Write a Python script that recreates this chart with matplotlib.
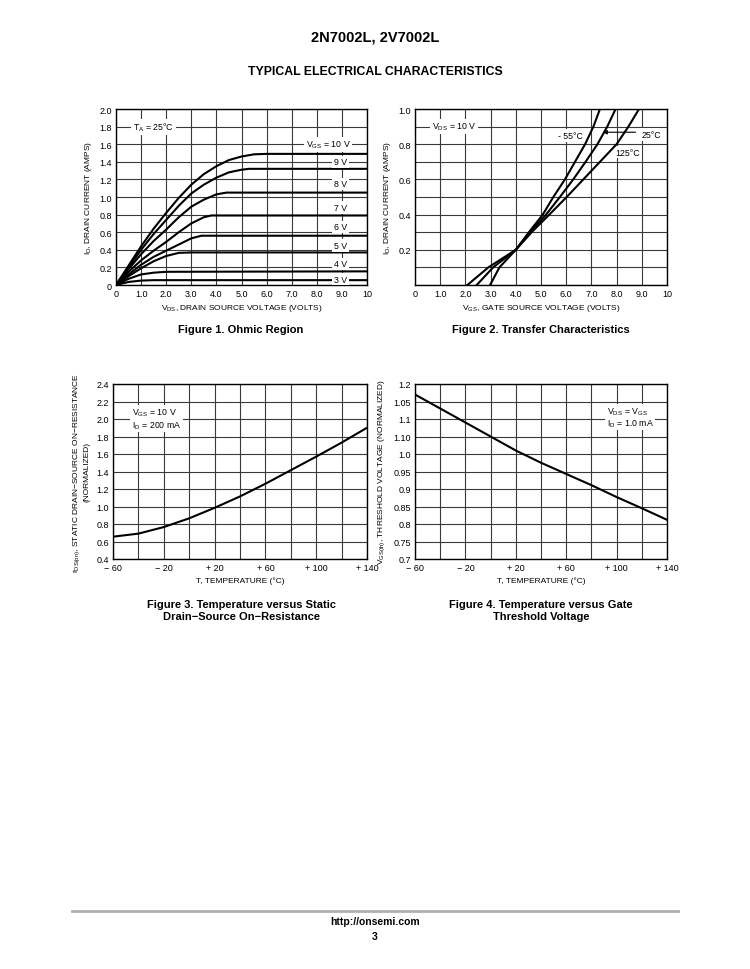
import numpy as np
import matplotlib
matplotlib.use('Agg')
import matplotlib.pyplot as plt

plt.rcParams['font.family'] = ['Liberation Sans', 'DejaVu Sans']

# Figure 1, ohmic region: drain current vs VDS for each VGS
vgs_labels = ['V$_\\mathregular{GS}$ = 10 V', '9 V', '8 V', '7 V', '6 V', '5 V', '4 V', '3 V']
vds_10 = [0, 0.5, 1, 1.5, 2, 2.5, 3, 3.5, 4, 4.5, 5, 5.5, 6, 10]
id_10 = [0, 0.22, 0.44, 0.64, 0.82, 0.99, 1.14, 1.26, 1.35, 1.42, 1.46, 1.485, 1.49, 1.49]
vds_9 = [0, 0.5, 1, 1.5, 2, 2.5, 3, 3.5, 4, 4.5, 5, 5.3, 10]
id_9 = [0, 0.2, 0.4, 0.58, 0.74, 0.9, 1.04, 1.14, 1.22, 1.28, 1.31, 1.32, 1.32]
vds_8 = [0, 0.5, 1, 1.5, 2, 2.5, 3, 3.5, 4, 4.4, 10]
id_8 = [0, 0.18, 0.35, 0.5, 0.63, 0.77, 0.89, 0.97, 1.03, 1.05, 1.05]
vds_7 = [0, 0.5, 1, 1.5, 2, 2.5, 3, 3.5, 3.8, 10]
id_7 = [0, 0.15, 0.28, 0.39, 0.49, 0.6, 0.7, 0.77, 0.79, 0.79]
vds_6 = [0, 0.5, 1, 1.5, 2, 2.5, 3, 3.4, 10]
id_6 = [0, 0.12, 0.23, 0.32, 0.39, 0.46, 0.53, 0.56, 0.56]
vds_5 = [0, 0.5, 1, 1.5, 2, 2.5, 3, 10]
id_5 = [0, 0.1, 0.19, 0.27, 0.33, 0.365, 0.37, 0.37]
vds_4 = [0, 0.5, 1, 1.5, 2, 10]
id_4 = [0, 0.07, 0.12, 0.14, 0.15, 0.155]
vds_3 = [0, 0.5, 1, 1.5, 10]
id_3 = [0, 0.035, 0.05, 0.055, 0.055]
label_y1 = [1.6, 1.4, 1.15, 0.88, 0.66, 0.45, 0.24, 0.065]

# Figure 2, transfer characteristics
temp_labels = ['- 55°C', '25°C', '125°C']
id_steps = [0, 0.1, 0.2, 0.3, 0.4, 0.5, 0.6, 0.7, 0.8, 0.9, 1.0]
vgs_m55 = [2.98, 3.35, 4.0, 4.52, 5.07, 5.49, 5.95, 6.35, 6.75, 7.08, 7.34]
vgs_25 = [2.45, 3.1, 4.0, 4.56, 5.2, 5.75, 6.28, 6.77, 7.24, 7.63, 7.96]
vgs_125 = [2.08, 2.91, 4.0, 4.63, 5.33, 6.02, 6.68, 7.34, 8.0, 8.47, 8.89]

# Figure 3 and 4, temperature dependence
temps = [-60, -40, -20, 0, 20, 40, 60, 80, 100, 120, 140]
rds_norm = [0.655, 0.69, 0.765, 0.865, 0.985, 1.115, 1.26, 1.415, 1.57, 1.73, 1.9]
vth_norm = [1.17, 1.13, 1.09, 1.05, 1.01, 0.975, 0.943, 0.911, 0.877, 0.845, 0.812]

temp_ticks = [-60, -20, 20, 60, 100, 140]
temp_ticklabels = ['\u2212 60', '\u2212 20', '+ 20', '+ 60', '+ 100', '+ 140']
vth_ticks = [0.7, 0.75, 0.8, 0.85, 0.9, 0.95, 1.0, 1.05, 1.1, 1.15, 1.2]
vth_ticklabels = ['0.7', '0.75', '0.8', '0.85', '0.9', '0.95', '1.0', '1.10', '1.1', '1.05', '1.2']

TICK = 6.5
LBL = 6.0
NOTE = 6.3
LW = 1.5
GRID = dict(color='#3a3a3a', lw=0.8)
WHITE = dict(facecolor='white', edgecolor='none', pad=1.2)

fig = plt.figure(figsize=(7.5, 9.7), dpi=100)


def style(ax):
    ax.tick_params(which='both', length=0, labelsize=TICK, pad=3)
    ax.grid(True, which='both', **GRID)
    ax.set_axisbelow(True)
    for s in ax.spines.values():
        s.set_linewidth(1.0)
        s.set_color('black')


# ---- Figure 1
ax1 = fig.add_axes([116 / 750, 1 - 286 / 970, 251 / 750, 176 / 970])
curves1 = [(vds_10, id_10), (vds_9, id_9), (vds_8, id_8), (vds_7, id_7),
           (vds_6, id_6), (vds_5, id_5), (vds_4, id_4), (vds_3, id_3)]
for x, y in curves1:
    ax1.plot(x, y, color='black', lw=LW, solid_joinstyle='round')
for lab, ly in zip(vgs_labels, label_y1):
    xpos = 8.45 if lab.startswith('V') else 8.95
    ax1.text(xpos, ly, lab, fontsize=NOTE, ha='center', va='center', bbox=WHITE)
ax1.text(1.5, 1.8, 'T$_\\mathregular{A}$ = 25°C', fontsize=NOTE, ha='center', va='center', bbox=WHITE)
ax1.set_xlim(0, 10)
ax1.set_ylim(0, 2.0)
ax1.set_xticks(np.arange(0, 11, 1))
ax1.set_xticklabels(['0'] + ['%.1f' % v for v in range(1, 10)] + ['10'])
ax1.set_yticks(np.arange(0, 2.01, 0.2))
ax1.set_yticklabels(['0'] + ['%.1f' % v for v in np.arange(0.2, 2.01, 0.2)])
ax1.set_xlabel('V$_\\mathregular{DS}$, DRAIN SOURCE VOLTAGE (VOLTS)', fontsize=LBL, labelpad=3)
ax1.set_ylabel('I$_\\mathregular{D}$, DRAIN CURRENT (AMPS)', fontsize=LBL, labelpad=4)
style(ax1)

# ---- Figure 2
ax2 = fig.add_axes([415 / 750, 1 - 286 / 970, 252 / 750, 176 / 970])
for v in [vgs_m55, vgs_25, vgs_125]:
    ax2.plot(v, id_steps, color='black', lw=LW, solid_joinstyle='round')
ax2.text(1.55, 0.9, 'V$_\\mathregular{DS}$ = 10 V', fontsize=NOTE, ha='center', va='center', bbox=WHITE)
ax2.text(6.15, 0.85, temp_labels[0], fontsize=NOTE, ha='center', va='center', bbox=WHITE, zorder=1)
ax2.text(9.0, 0.855, temp_labels[1], fontsize=NOTE, ha='left', va='center', bbox=WHITE, zorder=1)
ax2.annotate('', xy=(7.45, 0.868), xytext=(8.75, 0.868),
             arrowprops=dict(arrowstyle='-|>', color='black', lw=0.8, mutation_scale=6,
                             shrinkA=0, shrinkB=0))
ax2.text(8.45, 0.754, temp_labels[2], fontsize=NOTE, ha='center', va='center', bbox=WHITE, zorder=1)
ax2.set_xlim(0, 10)
ax2.set_ylim(0, 1.0)
ax2.set_xticks(np.arange(0, 11, 1))
ax2.set_xticklabels(['0'] + ['%.1f' % v for v in range(1, 10)] + ['10'])
yt = np.round(np.arange(0, 1.01, 0.1), 1)
ax2.set_yticks(yt)
ax2.set_yticklabels(['%.1f' % v if (round(v * 10) % 2 == 0 and v > 0) else '' for v in yt])
ax2.set_xlabel('V$_\\mathregular{GS}$, GATE SOURCE VOLTAGE (VOLTS)', fontsize=LBL, labelpad=3)
ax2.set_ylabel('I$_\\mathregular{D}$, DRAIN CURRENT (AMPS)', fontsize=LBL, labelpad=4)
style(ax2)

# ---- Figure 3
ax3 = fig.add_axes([113 / 750, 1 - 560 / 970, 254 / 750, 175 / 970])
ax3.plot(temps, rds_norm, color='black', lw=LW)
ax3.text(-45, 2.08, 'V$_\\mathregular{GS}$ = 10 V', fontsize=NOTE, ha='left', va='center', bbox=WHITE)
ax3.text(-45, 1.94, 'I$_\\mathregular{D}$ = 200 mA', fontsize=NOTE, ha='left', va='center', bbox=WHITE)
ax3.set_xlim(-60, 140)
ax3.set_ylim(0.4, 2.4)
ax3.set_xticks(temp_ticks)
ax3.set_xticklabels(temp_ticklabels)
ax3.set_xticks(np.arange(-60, 141, 20), minor=True)
ax3.set_yticks(np.arange(0.4, 2.41, 0.2))
ax3.set_yticklabels(['%.1f' % v for v in np.arange(0.4, 2.41, 0.2)])
ax3.set_xlabel('T, TEMPERATURE (°C)', fontsize=LBL, labelpad=3)
ax3.set_ylabel('r$_\\mathregular{DS(on)}$, STATIC DRAIN\u2212SOURCE ON\u2212RESISTANCE\n(NORMALIZED)',
               fontsize=LBL, labelpad=4, linespacing=1.1)
style(ax3)

# ---- Figure 4
ax4 = fig.add_axes([415 / 750, 1 - 560 / 970, 252 / 750, 175 / 970])
ax4.plot(temps, vth_norm, color='black', lw=LW)
ax4.text(92, 1.121, 'V$_\\mathregular{DS}$ = V$_\\mathregular{GS}$', fontsize=NOTE, ha='left', va='center', bbox=WHITE)
ax4.text(92, 1.09, 'I$_\\mathregular{D}$ = 1.0 mA', fontsize=NOTE, ha='left', va='center', bbox=WHITE)
ax4.set_xlim(-60, 140)
ax4.set_ylim(0.7, 1.2)
ax4.set_xticks(temp_ticks)
ax4.set_xticklabels(temp_ticklabels)
ax4.set_xticks(np.arange(-60, 141, 20), minor=True)
ax4.set_yticks(vth_ticks)
ax4.set_yticklabels(vth_ticklabels)
ax4.set_xlabel('T, TEMPERATURE (°C)', fontsize=LBL, labelpad=3)
ax4.set_ylabel('V$_\\mathregular{GS(th)}$, THRESHOLD VOLTAGE (NORMALIZED)', fontsize=LBL, labelpad=4)
style(ax4)

# ---- page text
bold = dict(fontweight='bold', ha='center', va='center')
fig.text(375 / 750, 1 - 37 / 970, '2N7002L, 2V7002L', fontsize=10.5, **bold)
fig.text(375 / 750, 1 - 72 / 970, 'TYPICAL ELECTRICAL CHARACTERISTICS', fontsize=8.8, **bold)
fig.text(241 / 750, 1 - 330 / 970, 'Figure 1. Ohmic Region', fontsize=8, **bold)
fig.text(541 / 750, 1 - 330 / 970, 'Figure 2. Transfer Characteristics', fontsize=8, **bold)
fig.text(241 / 750, 1 - 611 / 970, 'Figure 3. Temperature versus Static\nDrain\u2212Source On\u2212Resistance',
         fontsize=8, linespacing=1.25, **bold)
fig.text(541 / 750, 1 - 611 / 970, 'Figure 4. Temperature versus Gate\nThreshold Voltage',
         fontsize=8, linespacing=1.25, **bold)
fig.add_artist(plt.Line2D([72 / 750, 678 / 750], [1 - 912 / 970, 1 - 912 / 970],
                          color='#b0b0b0', lw=2.0))
fig.text(375 / 750, 1 - 922 / 970, 'http://onsemi.com', fontsize=7.5, **bold)
fig.text(375 / 750, 1 - 937 / 970, '3', fontsize=7.5, **bold)

fig.savefig('out.png', dpi=100, facecolor='white')
